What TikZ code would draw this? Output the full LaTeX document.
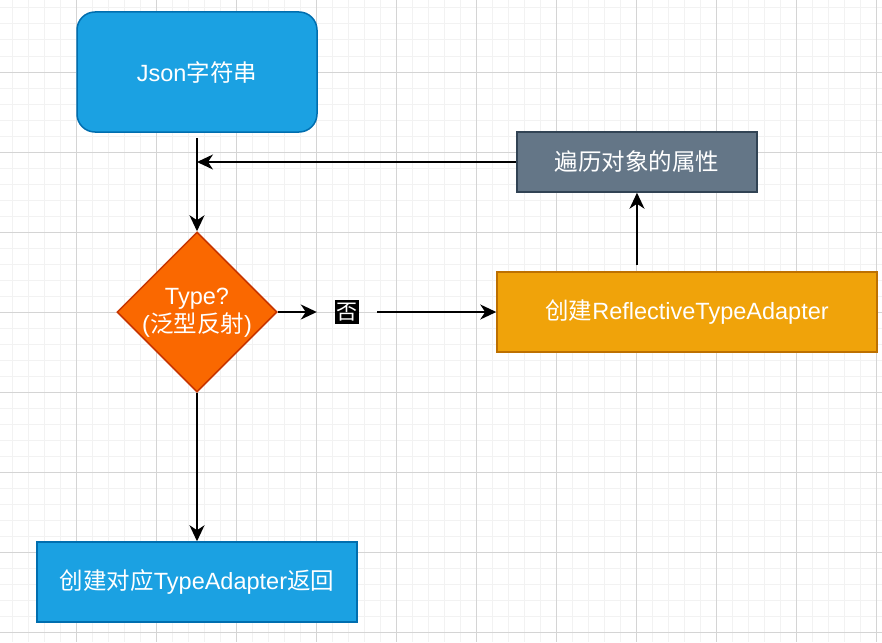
\documentclass[tikz,border=0pt]{standalone}
\usepackage{fontspec}
\setmainfont{Liberation Sans}
\newfontfamily\cjk{Noto Sans CJK SC}
\usetikzlibrary{arrows.meta,shapes.geometric}
\definecolor{bluefill}{HTML}{1BA1E2}
\definecolor{bluedraw}{HTML}{006EAF}
\definecolor{orfill}{HTML}{FA6800}
\definecolor{ordraw}{HTML}{C73500}
\definecolor{ambfill}{HTML}{F0A30A}
\definecolor{ambdraw}{HTML}{BD7000}
\definecolor{grfill}{HTML}{647687}
\definecolor{grdraw}{HTML}{314354}
\definecolor{gridminor}{HTML}{F2F2F2}
\definecolor{gridmajor}{HTML}{D4D4D4}
\begin{document}
\begin{tikzpicture}[x=1pt,y=-1pt,
  box/.style={draw, line width=1.5pt, text=white, inner sep=0pt,
    font=\fontsize{23.5}{28}\selectfont},
  arr/.style={draw=black, line width=2pt,
    -{Stealth[length=16pt,width=15pt,inset=5pt]}},
  minorline/.style={draw=gridminor, line width=1pt},
  majorline/.style={draw=gridmajor, line width=1pt}]
\useasboundingbox (0,0) rectangle (882,642);
\fill[white] (0,0) rectangle (882,642);
\foreach \i in {0,...,54} {\draw[minorline] (12.7+16*\i,0) -- (12.7+16*\i,642);}
\foreach \i in {0,...,39} {\draw[minorline] (0,8+16*\i) -- (882,8+16*\i);}
\foreach \i in {0,...,10} {\draw[majorline] (76.7+80*\i,0) -- (76.7+80*\i,642);}
\foreach \i in {0,...,7} {\draw[majorline] (0,72+80*\i) -- (882,72+80*\i);}

\node[box, fill=bluefill, draw=bluedraw, rounded corners=18pt,
  minimum width=240pt, minimum height=120pt] (json) at (197,72) {Json{\cjk 字符串}};
\node[box, fill=grfill, draw=grdraw,
  minimum width=240pt, minimum height=60pt] (gray) at (637,162) {{\cjk 遍历对象的属性}};
\node[box, fill=ambfill, draw=ambdraw,
  minimum width=380pt, minimum height=80pt] (amber) at (687,312) {{\cjk 创建}ReflectiveTypeAdapter};
\node[box, fill=bluefill, draw=bluedraw,
  minimum width=320pt, minimum height=80pt] (result) at (197,582) {{\cjk 创建对应}TypeAdapter{\cjk 返回}};
\node[diamond, draw=ordraw, fill=orfill, line width=1.5pt,
  minimum width=160pt, minimum height=160pt, inner sep=0pt] (dia) at (197,312) {};
\node[box, draw=none, align=center, yshift=-1pt] (diatext) at (dia.center) {Type?\\({\cjk 泛型反射})};
\node[minimum width=60pt, minimum height=30pt, inner sep=0pt] (nobox) at (347,312) {};
\node[fill=black, text=white, inner xsep=1.5pt, inner ysep=3pt,
  font=\fontsize{21}{24}\selectfont\cjk] (no) at (nobox.center) {否};

\coordinate (merge) at (json.south |- gray.west);
\coordinate (upstart) at (gray.south |- amber.north);
\draw[arr, shorten <=5pt] (json.south) -- (dia.north);
\draw[arr] (gray.west) -- (merge);
\draw[arr] (dia.east) -- (nobox.west);
\draw[arr] (nobox.east) -- (amber.west);
\draw[arr, shorten <=6pt] (upstart) -- (gray.south);
\draw[arr] (dia.south) -- (result.north);
\end{tikzpicture}
\end{document}
